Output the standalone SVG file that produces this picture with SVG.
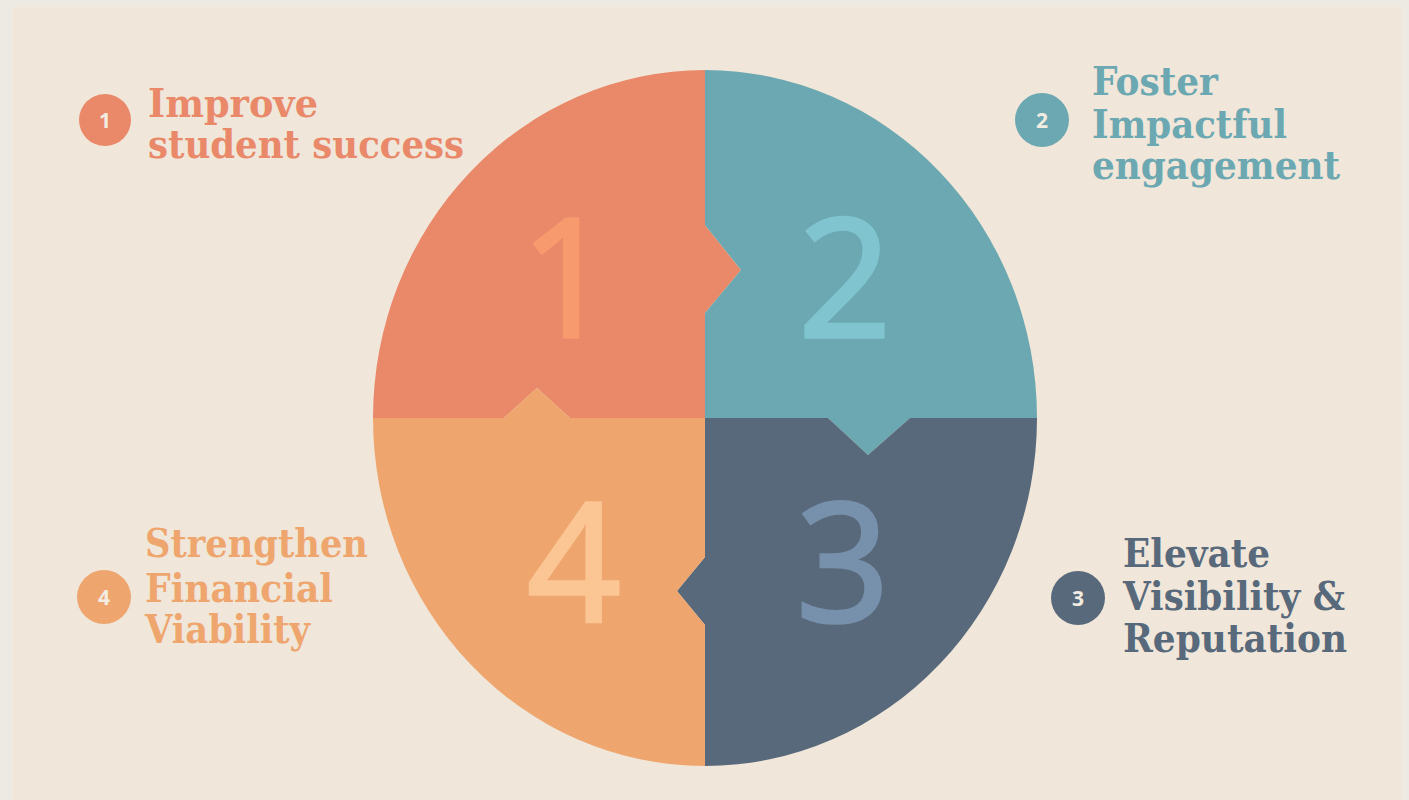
<svg xmlns="http://www.w3.org/2000/svg" width="1409" height="800" viewBox="0 0 1409 800">
<style>
.lbl{font-family:"DejaVu Serif","Liberation Serif",serif;font-weight:bold;font-size:40px}
.big{font-family:"Open Sans","Lato",sans-serif;font-weight:normal;font-size:164px;text-anchor:middle;stroke-width:3.5;stroke-linejoin:miter}
.bn{font-family:"Open Sans","Lato",sans-serif;font-weight:bold;font-size:21px;text-anchor:middle;fill:#F3ECE2}
.c1{fill:#E9896A}.c2{fill:#6CA8B1}.c3{fill:#58697B}.c4{fill:#EEA66E}
</style>
<rect x="0" y="0" width="1409" height="800" fill="#EDEAE3"/>
<rect x="13" y="7" width="1388" height="793" fill="#F0E6D9"/>
<g id="quadrant1">
<path class="c1" d="M373,418 A332,348 0 0 1 705,70 L705,225 L741,270 L705,313 L705,418 L570,418 L537,388 L504,418 Z"/>
<text class="big" x="567" y="337" fill="#F79A6E" stroke="#F79A6E">1</text>
</g>
<g id="quadrant2">
<path class="c2" d="M705,70 A332,348 0 0 1 1037,418 L910,418 L868,455 L828,418 L705,418 L705,313 L741,270 L705,225 Z"/>
<text class="big" x="845" y="337" fill="#80C4CF" stroke="#80C4CF">2</text>
</g>
<g id="quadrant3">
<path class="c3" d="M1037,418 A332,348 0 0 1 705,766 L705,625 L677,591 L705,557 L705,418 L828,418 L868,455 L910,418 Z"/>
<text class="big" x="843" y="621" fill="#7790AB" stroke="#7790AB">3</text>
</g>
<g id="quadrant4">
<path class="c4" d="M705,766 A332,348 0 0 1 373,418 L504,418 L537,388 L570,418 L705,418 L705,557 L677,591 L705,625 Z"/>
<text class="big" x="574" y="621" fill="#FBC594" stroke="#FBC594">4</text>
</g>
<g id="label1">
<circle class="c1" cx="105" cy="120" r="26"/>
<text class="bn" x="105" y="127.5">1</text>
<text class="lbl c1" x="148" y="117" textLength="170" lengthAdjust="spacingAndGlyphs">Improve</text>
<text class="lbl c1" x="148" y="158" textLength="316" lengthAdjust="spacingAndGlyphs">student success</text>
</g>
<g id="label2">
<circle class="c2" cx="1042" cy="120" r="27"/>
<text class="bn" x="1042" y="127.5">2</text>
<text class="lbl c2" x="1092" y="95" textLength="126" lengthAdjust="spacingAndGlyphs">Foster</text>
<text class="lbl c2" x="1092" y="138" textLength="195" lengthAdjust="spacingAndGlyphs">Impactful</text>
<text class="lbl c2" x="1092" y="179" textLength="248" lengthAdjust="spacingAndGlyphs">engagement</text>
</g>
<g id="label3">
<circle class="c3" cx="1078" cy="598" r="27"/>
<text class="bn" x="1078" y="605.5">3</text>
<text class="lbl c3" x="1123" y="567" textLength="147" lengthAdjust="spacingAndGlyphs">Elevate</text>
<text class="lbl c3" x="1123" y="610" textLength="222" lengthAdjust="spacingAndGlyphs">Visibility &amp;</text>
<text class="lbl c3" x="1123" y="652" textLength="224" lengthAdjust="spacingAndGlyphs">Reputation</text>
</g>
<g id="label4">
<circle class="c4" cx="104" cy="597" r="27"/>
<text class="bn" x="104" y="604.5">4</text>
<text class="lbl c4" x="145" y="557" textLength="223" lengthAdjust="spacingAndGlyphs">Strengthen</text>
<text class="lbl c4" x="145" y="602" textLength="188" lengthAdjust="spacingAndGlyphs">Financial</text>
<text class="lbl c4" x="145" y="643" textLength="165" lengthAdjust="spacingAndGlyphs">Viability</text>
</g>
<g id="connectors"></g>
</svg>
